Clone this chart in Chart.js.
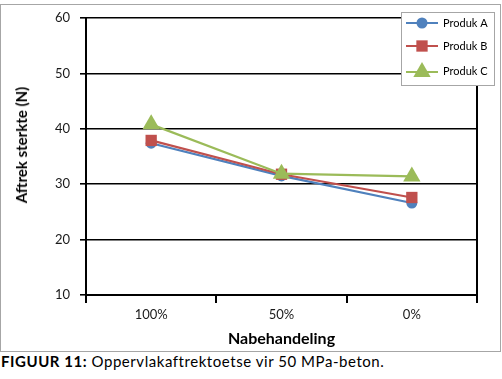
<!DOCTYPE html>
<html><head><meta charset="utf-8">
<script src="https://cdn.jsdelivr.net/npm/chart.js@4.4.1/dist/chart.umd.min.js"></script>
<style>
html,body{margin:0;padding:0;background:#fff}
body{width:502px;height:379px;overflow:hidden;position:relative;font-family:Lato,"Liberation Sans",sans-serif}
#frame{position:absolute;left:0;top:4px;width:501px;height:348px;border:1px solid #a6a6a6;box-sizing:border-box}
#wrap{position:absolute;left:0;top:0;width:502px;height:352px}
#ytitle{position:absolute;left:21px;top:145px;transform:translate(-50%,-50%) rotate(-90deg);white-space:nowrap;font-weight:bold;font-size:15px;color:#000}
#cap{position:absolute;left:1px;top:352px;font-size:15px;letter-spacing:0.55px;color:#000;white-space:nowrap}
</style></head><body>
<div id="frame"></div>
<div id="wrap"><canvas id="c" width="502" height="352"></canvas></div>
<div id="ytitle">Aftrek sterkte (N)</div>
<div id="cap"><b>FIGUUR 11:</b> Oppervlakaftrektoetse vir 50 MPa-beton.</div>
<script>
const categories = ['100%', '50%', '0%'];
const produkA = [37.4, 31.5, 26.6];
const produkB = [37.9, 31.8, 27.6];
const produkC = [40.8, 31.9, 31.4];
const seriesNames = ['Produk A', 'Produk B', 'Produk C'];
const yTicks = [10, 20, 30, 40, 50, 60];
const xTitle = 'Nabehandeling';

const FONT = 'Lato, "Liberation Sans", sans-serif';
const styles = [
  {color:'#4F81BD', pointStyle:'circle', radius:5.5},
  {color:'#C0504D', pointStyle:'rect', radius:8},
  {color:'#9BBB59', pointStyle:'triangle', radius:10}
];
const seriesData = [produkA, produkB, produkC];

const datasets = seriesData.map((d, i) => ({
  label: seriesNames[i],
  data: d,
  borderColor: styles[i].color,
  backgroundColor: styles[i].color,
  pointBackgroundColor: styles[i].color,
  pointBorderColor: styles[i].color,
  pointStyle: styles[i].pointStyle,
  pointRadius: styles[i].radius,
  pointHoverRadius: styles[i].radius,
  pointBorderWidth: 0,
  borderWidth: 2.2,
  tension: 0,
  order: 3 - i
}));

const framePlugin = {
  id: 'frame',
  beforeDatasetsDraw(chart) {
    const {ctx, chartArea} = chart;
    ctx.save();
    ctx.strokeStyle = '#000';
    ctx.lineWidth = 2;
    ctx.beginPath();
    ctx.moveTo(chartArea.right, chartArea.top);
    ctx.lineTo(chartArea.right, chartArea.bottom);
    ctx.stroke();
    ctx.restore();
  }
};

const legendPlugin = {
  id: 'customLegend',
  afterDraw(chart) {
    const ctx = chart.ctx;
    const left = 401, top = 12, w = 93, h = 73;
    ctx.save();
    ctx.fillStyle = '#fff';
    ctx.fillRect(left, top, w, h);
    ctx.strokeStyle = '#a6a6a6';
    ctx.lineWidth = 1;
    ctx.strokeRect(left + 0.5, top + 0.5, w, h);
    const rows = [23, 46, 72];
    seriesNames.forEach((name, i) => {
      const y = rows[i];
      ctx.strokeStyle = styles[i].color;
      ctx.lineWidth = 2;
      ctx.beginPath();
      ctx.moveTo(406, y);
      ctx.lineTo(438, y);
      ctx.stroke();
      ctx.fillStyle = styles[i].color;
      ctx.strokeStyle = styles[i].color;
      Chart.helpers.drawPoint(ctx, {pointStyle: styles[i].pointStyle, radius: styles[i].radius, rotation: 0, borderWidth: 0}, 422, y);
      ctx.fillStyle = '#000';
      ctx.font = '11px ' + FONT;
      ctx.textBaseline = 'middle';
      ctx.textAlign = 'left';
      ctx.fillText(name, 443, i === 2 ? y - 1 : y);
    });
    ctx.restore();
  }
};

new Chart(document.getElementById('c'), {
  type: 'line',
  data: {labels: categories, datasets},
  options: {
    responsive: false,
    animation: false,
    devicePixelRatio: 1,
    layout: {padding: {left: 0, right: 25, top: 18, bottom: 0}},
    plugins: {legend: {display: false}, tooltip: {enabled: false}},
    scales: {
      x: {
        type: 'category',
        offset: true,
        grid: {offset: true, drawOnChartArea: false, drawTicks: true, tickLength: 8, color: '#000', lineWidth: 2},
        border: {color: '#000', width: 2},
        ticks: {font: {size: 13, family: FONT}, color: '#1a1a1a', padding: 4, maxRotation: 0},
        title: {display: true, text: xTitle, color: '#000', font: {size: 16, weight: 'bold', family: FONT}, padding: {top: 0, bottom: 4}},
        afterFit(s) { s.height = 57; }
      },
      y: {
        min: 10, max: 60,
        afterBuildTicks(s) { s.ticks = yTicks.map(v => ({value: v})); },
        ticks: {font: {size: 13, family: FONT}, color: '#1a1a1a', padding: 10},
        grid: {color: '#000', lineWidth: 1.6, tickLength: 6},
        border: {color: '#000', width: 2},
        afterFit(s) { s.width = 86; }
      }
    }
  },
  plugins: [framePlugin, legendPlugin]
});
</script>
</body></html>
